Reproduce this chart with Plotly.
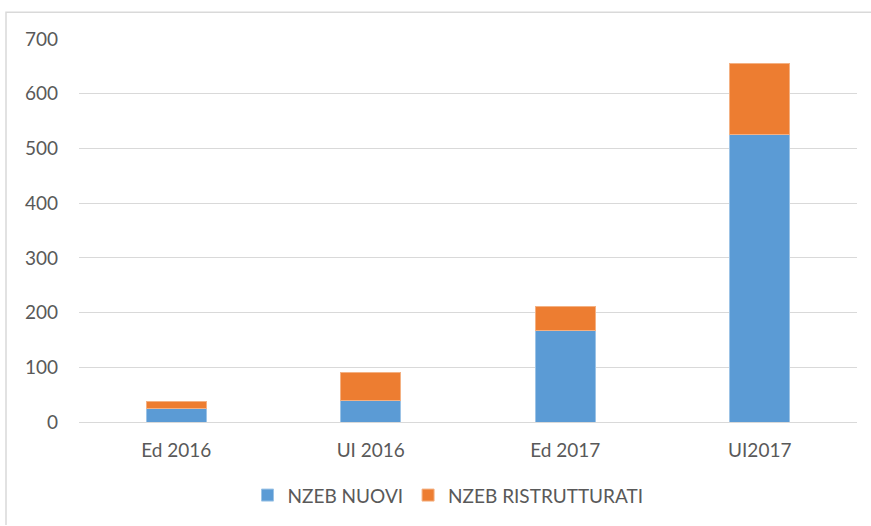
import plotly.graph_objects as go

categories = ["Ed 2016", "UI 2016", "Ed 2017", "UI2017"]
nzeb_nuovi = [25, 40, 167, 525]
nzeb_ristrutturati = [13, 50, 44, 130]
y_ticks = [0, 100, 200, 300, 400, 500, 600, 700]

fig = go.Figure()
fig.add_trace(go.Bar(name="NZEB NUOVI", x=categories, y=nzeb_nuovi,
                     marker=dict(color="#5b9bd5", line=dict(color="#9cc3e6", width=1))))
fig.add_trace(go.Bar(name="NZEB RISTRUTTURATI", x=categories, y=nzeb_ristrutturati,
                     marker=dict(color="#ed7d31", line=dict(color="#f4b183", width=1))))

W, H = 871, 526
L, T = 79, 39
R = W - 857
B = H - 426
pw, ph = W - L - R, H - T - B

def px(x):
    return (x - L) / pw

def py(y):
    return (H - B - y) / ph

FONT = "Lato, Open Sans, sans-serif"

fig.update_layout(
    barmode="stack",
    bargap=0.69,
    width=W, height=H,
    margin=dict(l=L, r=R, t=T, b=B),
    paper_bgcolor="white", plot_bgcolor="white",
    font=dict(family=FONT, size=19, color="#595959"),
    showlegend=True,
    legend=dict(orientation="h", x=px(448), xanchor="center", y=py(500), yanchor="middle",
                font=dict(family=FONT, size=19, color="#595959"), itemwidth=30,
                traceorder="normal"),
    xaxis=dict(showgrid=False, ticks="", showline=False, ticklabelstandoff=15,
               tickfont=dict(family=FONT, size=19, color="#595959")),
    yaxis=dict(range=[0, 700], tickvals=y_ticks, showgrid=True, gridcolor="#d9d9d9",
               gridwidth=1.3, zeroline=True, zerolinecolor="#d9d9d9", zerolinewidth=1.3,
               showline=False, ticks="", ticklabelstandoff=20,
               tickfont=dict(family=FONT, size=19, color="#595959")),
    shapes=[dict(type="path", xref="paper", yref="paper",
                 path=f"M {px(6)} {py(530)} L {px(6)} {py(12)} L {px(875)} {py(12)}",
                 line=dict(color="#d9d9d9", width=1.5))],
)

fig.write_html("out.html", config={"displayModeBar": False},
               post_script="document.body.style.margin='0';document.body.style.overflow='hidden';")
